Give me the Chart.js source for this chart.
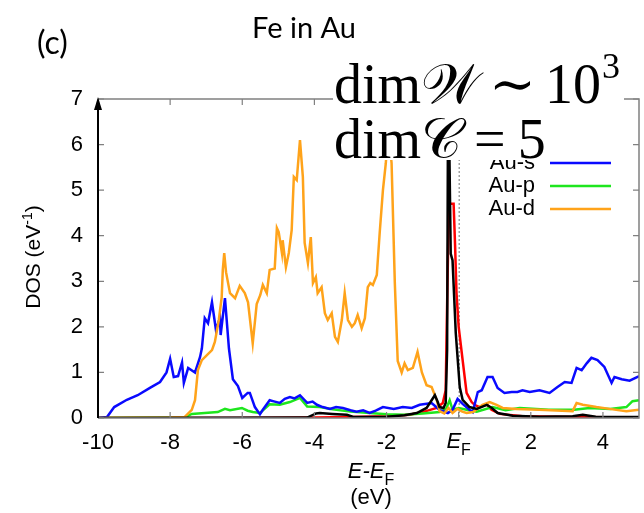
<!DOCTYPE html>
<html lang="en">
<head>
<meta charset="UTF-8">
<title>Fe in Au - DOS</title>
<script src="https://cdn.jsdelivr.net/npm/chart.js@4"></script>
<style>
  body { margin: 0; background: #fff; }
</style>
</head>
<body>
<canvas id="dos" width="644" height="513"></canvas>
<script>
// E - E_F (eV) and DOS (1/eV)
const auS_E   = [-10, -9.75, -9.55, -9.2, -8.9, -8.56, -8.28, -8.1, -8.0, -7.9, -7.78, -7.67, -7.62, -7.5, -7.31, -7.17, -7.12, -7.04, -6.95, -6.84, -6.73, -6.62, -6.6, -6.48, -6.37, -6.26, -6.12, -6.0, -5.85, -5.79, -5.65, -5.51, -5.43, -5.24, -5.1, -4.96, -4.82, -4.68, -4.55, -4.4, -4.2, -4.05, -3.93, -3.77, -3.57, -3.4, -3.21, -3.0, -2.83, -2.65, -2.47, -2.3, -2.1, -1.8, -1.55, -1.3, -1.08, -0.75, -0.53, -0.3, -0.17, -0.03, 0.11, 0.3, 0.39, 0.53, 0.64, 0.8, 0.94, 1.08, 1.27, 1.47, 1.63, 1.77, 1.97, 2.24, 2.52, 2.74, 2.94, 3.13, 3.27, 3.41, 3.55, 3.68, 3.85, 4.04, 4.24, 4.32, 4.52, 4.74, 4.96, 5];
const auS_DOS = [0, 0.02, 0.24, 0.4, 0.5, 0.66, 0.79, 1.0, 1.3, 0.9, 0.92, 1.22, 0.77, 1.1, 1.0, 1.34, 1.53, 2.19, 2.08, 2.54, 1.93, 2.2, 1.82, 2.63, 1.53, 0.85, 0.7, 0.44, 0.55, 0.55, 0.24, 0.08, 0.18, 0.39, 0.36, 0.33, 0.42, 0.46, 0.43, 0.5, 0.33, 0.36, 0.29, 0.24, 0.2, 0.24, 0.22, 0.17, 0.14, 0.17, 0.11, 0.16, 0.24, 0.2, 0.24, 0.22, 0.29, 0.33, 0.18, 0.11, 0.18, 0.42, 0.31, 0.18, 0.13, 0.57, 0.61, 0.9, 0.9, 0.66, 0.55, 0.57, 0.57, 0.61, 0.57, 0.61, 0.55, 0.68, 0.79, 0.77, 1.1, 1.05, 1.2, 1.32, 1.27, 1.12, 0.77, 0.9, 0.85, 0.82, 0.9, 0.92];

const auP_E   = [-10, -7.6, -7.4, -7.04, -6.68, -6.48, -6.34, -6.01, -5.85, -5.71, -5.51, -5.24, -4.96, -4.68, -4.4, -4.2, -3.85, -3.5, -3.0, -2.47, -2.0, -1.5, -1.0, -0.53, -0.35, -0.25, -0.17, 0.0, 0.22, 0.5, 0.94, 1.3, 1.69, 2.5, 3.2, 3.63, 4.2, 4.65, 4.82, 5];
const auP_DOS = [0, 0.01, 0.09, 0.11, 0.13, 0.2, 0.17, 0.22, 0.16, 0.13, 0.11, 0.3, 0.29, 0.35, 0.44, 0.25, 0.24, 0.19, 0.14, 0.11, 0.08, 0.07, 0.1, 0.13, 0.2, 0.39, 0.18, 0.22, 0.18, 0.14, 0.24, 0.17, 0.22, 0.18, 0.18, 0.22, 0.2, 0.24, 0.37, 0.39];

const auD_E   = [-10, -8, -7.6, -7.4, -7.31, -7.23, -7.12, -6.98, -6.84, -6.76, -6.65, -6.57, -6.54, -6.5, -6.45, -6.34, -6.2, -6.07, -5.93, -5.84, -5.71, -5.6, -5.5, -5.43, -5.32, -5.24, -5.1, -5.04, -4.99, -4.9, -4.88, -4.79, -4.71, -4.63, -4.57, -4.49, -4.4, -4.32, -4.27, -4.18, -4.1, -4.04, -3.96, -3.91, -3.8, -3.71, -3.63, -3.52, -3.43, -3.35, -3.24, -3.16, -3.07, -2.96, -2.88, -2.8, -2.69, -2.6, -2.52, -2.45, -2.38, -2.27, -2.19, -2.1, -2.02, -1.95, -1.86, -1.77, -1.69, -1.58, -1.5, -1.41, -1.27, -1.14, -1.02, -0.89, -0.75, -0.61, -0.53, -0.4, -0.28, -0.17, -0.03, 0.1, 0.22, 0.4, 0.66, 0.86, 1.05, 1.22, 1.6, 2.24, 3.16, 3.27, 3.44, 3.82, 4.18, 4.65, 5];
const auD_DOS = [0, 0.01, 0.02, 0.18, 0.39, 1.05, 1.27, 1.38, 1.49, 1.67, 2.15, 2.65, 3.25, 3.62, 3.2, 2.74, 2.63, 2.9, 2.74, 2.54, 1.64, 2.5, 2.7, 2.92, 2.74, 3.25, 3.28, 4.17, 4.08, 3.62, 3.9, 3.31, 3.62, 4.12, 5.29, 5.22, 6.1, 5.29, 3.84, 3.4, 3.97, 2.96, 3.09, 2.74, 2.87, 2.3, 2.15, 2.3, 1.78, 1.67, 2.15, 2.74, 2.15, 2.0, 2.08, 2.26, 1.97, 2.19, 2.87, 2.96, 2.92, 3.14, 4.06, 5.0, 5.59, 6.4, 5.59, 2.96, 1.25, 1.0, 1.2, 1.05, 1.1, 1.45, 1.0, 0.72, 0.68, 0.4, 0.15, 0.1, 0.22, 0.11, 0.2, 0.14, 0.11, 0.13, 0.29, 0.35, 0.29, 0.22, 0.2, 0.18, 0.15, 0.33, 0.29, 0.24, 0.2, 0.15, 0.18];

const feRed_E   = [-10, -6, -4, -3, -2, -1.36, -1.0, -0.61, -0.44, -0.36, -0.31, -0.27, -0.14, -0.1, -0.06, 0.0, 0.11, 0.22, 0.36, 0.44, 0.58, 0.78, 0.91, 1.14, 1.77, 3.16, 5];
const feRed_DOS = [0, 0, 0.01, 0.02, 0.04, 0.07, 0.13, 0.22, 0.33, 0.61, 2.96, 4.7, 4.7, 3.8, 2.74, 2.0, 1.27, 0.55, 0.35, 0.29, 0.24, 0.3, 0.18, 0.09, 0.04, 0.02, 0.01];

const feBlack_E   = [-10, -4.2, -3.95, -3.85, -3.5, -3.1, -2.9, -2.0, -1.5, -1.16, -0.89, -0.75, -0.66, -0.58, -0.53, -0.42, -0.36, -0.32, -0.29, -0.22, -0.17, -0.08, 0.03, 0.11, 0.3, 0.5, 0.78, 0.92, 1.08, 1.5, 2.24, 3.16, 3.44, 3.8, 5];
const feBlack_DOS = [0, 0.01, 0.1, 0.11, 0.09, 0.07, 0.02, 0.03, 0.06, 0.11, 0.22, 0.39, 0.5, 0.35, 0.24, 0.22, 0.33, 1.5, 7.8, 3.6, 3.46, 1.86, 0.68, 0.4, 0.24, 0.2, 0.29, 0.22, 0.11, 0.05, 0.03, 0.04, 0.07, 0.03, 0.02];

const legendNames = ['Au-s', 'Au-p', 'Au-d'];
const xTickValues = [-10, -8, -6, -4, -2, 0, 2, 4];
const yTickValues = [0, 1, 2, 3, 4, 5, 6, 7];

function pts(xs, ys) {
  return xs.map((x, i) => ({ x: x, y: ys[i] }));
}

const sans = '"Liberation Sans", Arial, sans-serif';
const tickFont = { family: sans, size: 22 };

// extra drawing the library does not do: gnuplot style frame, inward ticks,
// E_F marker, in-plot legend, titles and the white LaTeX boxes
const overlay = {
  id: 'overlay',
  beforeDatasetsDraw(chart) {
    const { ctx, chartArea: a, scales: { x } } = chart;
    const xf = x.getPixelForValue(0);
    ctx.save();
    ctx.strokeStyle = '#777';
    ctx.lineWidth = 1;
    ctx.setLineDash([2, 2]);
    ctx.beginPath();
    ctx.moveTo(xf + 0.5, a.top);
    ctx.lineTo(xf + 0.5, a.bottom);
    ctx.stroke();
    ctx.restore();
  },
  afterDatasetsDraw(chart) {
    const { ctx, chartArea: a, scales: { x, y } } = chart;
    ctx.save();
    ctx.strokeStyle = '#808080';
    ctx.lineWidth = 1.5;
    ctx.beginPath();
    ctx.moveTo(a.left, a.top); ctx.lineTo(a.right, a.top);
    ctx.lineTo(a.right, a.bottom); ctx.lineTo(a.left, a.bottom);
    ctx.stroke();
    // inward ticks
    ctx.lineWidth = 1.2;
    ctx.beginPath();
    x.ticks.forEach(t => {
      const px = x.getPixelForValue(t.value);
      ctx.moveTo(px, a.bottom); ctx.lineTo(px, a.bottom - 6);
      ctx.moveTo(px, a.top); ctx.lineTo(px, a.top + 6);
    });
    y.ticks.forEach(t => {
      const py = y.getPixelForValue(t.value);
      ctx.moveTo(a.left, py); ctx.lineTo(a.left + 6, py);
      ctx.moveTo(a.right, py); ctx.lineTo(a.right - 6, py);
    });
    ctx.stroke();
    // left axis with arrow
    ctx.strokeStyle = '#000';
    ctx.fillStyle = '#000';
    ctx.lineWidth = 2;
    ctx.beginPath();
    ctx.moveTo(a.left, a.bottom); ctx.lineTo(a.left, a.top + 6);
    ctx.stroke();
    ctx.beginPath();
    ctx.moveTo(a.left, a.top - 2);
    ctx.lineTo(a.left - 4, a.top + 11);
    ctx.lineTo(a.left + 4, a.top + 11);
    ctx.closePath();
    ctx.fill();
    ctx.restore();
  },
  afterDraw(chart) {
    const { ctx, scales: { x } } = chart;
    ctx.save();
    ctx.fillStyle = '#000';

    // legend (text right aligned, sample line on the right)
    ctx.font = '22px ' + sans;
    ctx.textAlign = 'right';
    ctx.textBaseline = 'middle';
    legendNames.forEach((name, i) => {
      const ds = chart.data.datasets[i];
      const ly = 163 + i * 23;
      ctx.fillStyle = '#000';
      ctx.fillText(name, 535, ly);
      ctx.strokeStyle = ds.borderColor;
      ctx.lineWidth = 2.5;
      ctx.beginPath();
      ctx.moveTo(550, ly); ctx.lineTo(611, ly);
      ctx.stroke();
    });

    // E_F tick label
    const xf = x.getPixelForValue(0);
    ctx.textBaseline = 'alphabetic';
    ctx.textAlign = 'left';
    ctx.font = 'italic 22px ' + sans;
    const wE = ctx.measureText('E').width;
    ctx.font = '16px ' + sans;
    const wF = ctx.measureText('F').width;
    const x0 = xf - (wE + wF) / 2;
    ctx.font = 'italic 22px ' + sans;
    ctx.fillText('E', x0, 448);
    ctx.font = '16px ' + sans;
    ctx.fillText('F', x0 + wE, 455);

    // x axis title
    ctx.font = 'italic 22px ' + sans;
    const p1 = ctx.measureText('E-E').width;
    const tx = 371 - (p1 + wF) / 2;
    ctx.fillText('E-E', tx, 478);
    ctx.font = '16px ' + sans;
    ctx.fillText('F', tx + p1, 485);
    ctx.font = '22px ' + sans;
    ctx.textAlign = 'center';
    ctx.fillText('(eV)', 371, 504);

    // y axis title
    ctx.save();
    ctx.translate(40, 257);
    ctx.rotate(-Math.PI / 2);
    ctx.font = '21px ' + sans;
    const a1 = ctx.measureText('DOS (eV').width;
    ctx.font = '14px ' + sans;
    const a2 = ctx.measureText('-1').width;
    ctx.font = '21px ' + sans;
    const a3 = ctx.measureText(')').width;
    const sx = -(a1 + a2 + a3) / 2;
    ctx.textAlign = 'left';
    ctx.fillText('DOS (eV', sx, 0);
    ctx.font = '14px ' + sans;
    ctx.fillText('-1', sx + a1, -8);
    ctx.font = '21px ' + sans;
    ctx.fillText(')', sx + a1 + a2, 0);
    ctx.restore();

    // panel label and title
    ctx.textAlign = 'left';
    ctx.font = '32px Lato, "Open Sans", sans-serif';
    ctx.fillText('(c)', 37, 54);
    ctx.textAlign = 'center';
    ctx.font = '29px Lato, "Open Sans", sans-serif';
    ctx.fillText('Fe in Au', 304, 38);

    // white LaTeX boxes
    ctx.fillStyle = '#fff';
    ctx.fillRect(333, 48, 291, 60);
    ctx.fillRect(330, 108, 217, 52);
    ctx.fillStyle = '#000';
    ctx.textAlign = 'left';
    const serif = '"Liberation Serif", "DejaVu Serif", serif';
    let cx = 334;
    ctx.font = '56px ' + serif;
    ctx.fillText('dim', cx, 103);
    cx += ctx.measureText('dim').width;
    ctx.font = '56px "DejaVu Sans", ' + serif;
    ctx.fillText('\u{1D4B2}', cx, 103);
    cx += ctx.measureText('\u{1D4B2}').width + 9;
    ctx.font = '56px ' + serif;
    ctx.fillText('\u223C', cx, 103);
    cx += ctx.measureText('\u223C').width + 9;
    ctx.fillText('10', cx, 103);
    cx += ctx.measureText('10').width;
    ctx.font = '36px ' + serif;
    ctx.fillText('3', cx + 1, 78);

    cx = 334;
    ctx.font = '56px ' + serif;
    ctx.fillText('dim', cx, 158);
    cx += ctx.measureText('dim').width;
    ctx.font = '56px "DejaVu Sans", ' + serif;
    ctx.fillText('\u{1D49E}', cx, 158);
    cx += ctx.measureText('\u{1D49E}').width + 12;
    ctx.font = '56px ' + serif;
    ctx.fillText('=', cx, 158);
    cx += ctx.measureText('=').width + 12;
    ctx.fillText('5', cx, 158);
    ctx.restore();
  }
};

const ctx = document.getElementById('dos').getContext('2d');
new Chart(ctx, {
  type: 'line',
  data: {
    datasets: [
      { label: 'Au-s', data: pts(auS_E, auS_DOS), borderColor: '#0a0aff', order: 3 },
      { label: 'Au-p', data: pts(auP_E, auP_DOS), borderColor: '#1ee61e', order: 4 },
      { label: 'Au-d', data: pts(auD_E, auD_DOS), borderColor: '#ffa31a', order: 2 },
      { label: 'Fe-d', data: pts(feRed_E, feRed_DOS), borderColor: '#ff0000', order: 5 },
      { label: 'Fe-d total', data: pts(feBlack_E, feBlack_DOS), borderColor: '#000000', order: 1 }
    ]
  },
  options: {
    responsive: false,
    animation: false,
    elements: {
      line: { borderWidth: 2.5, tension: 0, fill: false },
      point: { radius: 0 }
    },
    layout: { padding: { top: 99, right: 5, left: 0, bottom: 0 } },
    plugins: { legend: { display: false }, tooltip: { enabled: false } },
    scales: {
      x: {
        type: 'linear',
        min: -10,
        max: 5,
        grid: { display: false, drawTicks: false },
        border: { display: false },
        afterBuildTicks: s => { s.ticks = xTickValues.map(v => ({ value: v })); },
        afterFit: s => { s.height = 95; },
        ticks: {
          font: tickFont,
          color: '#000',
          padding: 12,
          maxRotation: 0,
          callback: v => (v === 0 ? '' : String(v))
        }
      },
      y: {
        min: 0,
        max: 7,
        grid: { display: false, drawTicks: false },
        border: { display: false },
        afterBuildTicks: s => { s.ticks = yTickValues.map(v => ({ value: v })); },
        afterFit: s => { s.width = 98; },
        ticks: { font: tickFont, color: '#000', padding: 15 }
      }
    }
  },
  plugins: [overlay]
});
</script>
</body>
</html>
